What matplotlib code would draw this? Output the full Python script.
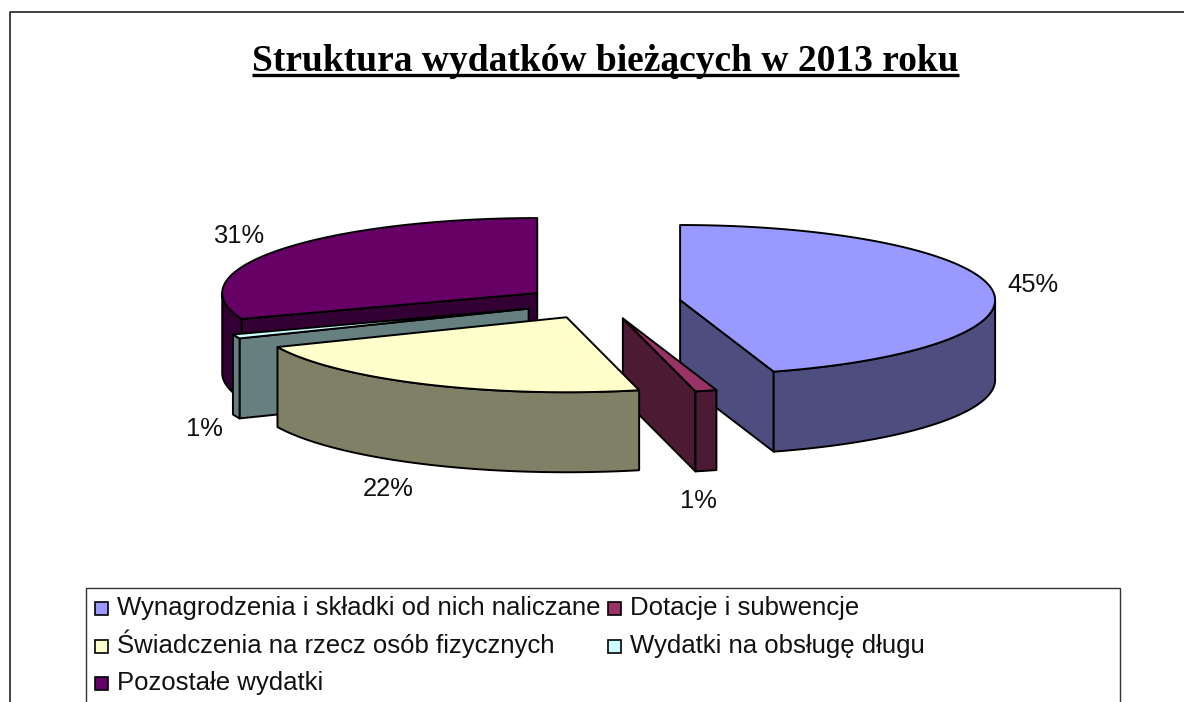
import numpy as np
import matplotlib
matplotlib.use('Agg')
import matplotlib.pyplot as plt
from matplotlib.patches import Polygon, Rectangle

plt.rcParams['font.family'] = ['Liberation Sans']

title = 'Struktura wydatków bieżących w 2013 roku'
categories = ['Wynagrodzenia i składki od nich naliczane', 'Dotacje i subwencje',
              'Świadczenia na rzecz osób fizycznych', 'Wydatki na obsługę długu',
              'Pozostałe wydatki']
values = [45.2, 1.1, 22.2, 0.9, 30.6]
top_colors = ['#9999FF', '#993366', '#FFFFCC', '#CCFFFF', '#660066']
side_colors = ['#4D4D80', '#4D1A33', '#808066', '#668080', '#330033']

cx, cy = 602, 302.5    # pie centre in pixels
rx, ry = 315, 75
depth = 80
pull_x, pull_y = 79, 16.5   # how far each slice is pulled out
lw = 1.4


def edge(c, t):
    # t in degrees clockwise from 12 o'clock
    t = np.radians(t)
    return np.column_stack([c[0] + rx * np.sin(t), c[1] - ry * np.cos(t)])


def draw_slice(ax, start, end, top, side):
    mid = np.radians((start + end) / 2)
    c = (cx + pull_x * np.sin(mid), cy - pull_y * np.cos(mid))
    down = np.array([0, depth])
    style = dict(edgecolor='black', linewidth=lw, joinstyle='round')
    # flat cut faces that look towards the viewer
    for t, show in ((start, start > 180), (end, end < 180)):
        if show:
            p = edge(c, t)[0]
            ax.add_patch(Polygon([c, p, p + down, np.array(c) + down], facecolor=side, **style))
    # outer rim, only the front half can be seen
    a, b = max(start, 90), min(end, 270)
    if b > a:
        arc = edge(c, np.linspace(a, b, 60))
        ax.add_patch(Polygon(np.vstack([arc, (arc + down)[::-1]]), facecolor=side, **style))
    arc = edge(c, np.linspace(start, end, 120))
    ax.add_patch(Polygon(np.vstack([[c], arc]), facecolor=top, **style))


fig = plt.figure(figsize=(11.84, 7.02), dpi=100)
ax = fig.add_axes([0, 0, 1, 1])
ax.set_xlim(0, 1184)
ax.set_ylim(702, 0)
ax.axis('off')

# chart border, cut off by the image on the right and bottom
ax.plot([9.5, 9.5, 1184], [702, 12, 12], color='#222222', lw=1.2)

bounds = np.cumsum([0] + values) * 3.6
for i in [4, 3, 0, 1, 2]:
    draw_slice(ax, bounds[i], bounds[i + 1], top_colors[i], side_colors[i])

# percent labels
label_pos = [(1033, 285), (698, 501), (388, 489), (204, 429), (239, 236)]
for v, (x, y) in zip(values, label_pos):
    ax.text(x, y, '%.0f%%' % v, fontsize=18.4, ha='center', va='center', color='#111111')

t = ax.text(605.5, 71, title, fontsize=27, family='Liberation Serif', fontweight='bold',
            ha='center', va='baseline')
fig.canvas.draw()
box = t.get_window_extent()
ax.plot([box.x0, box.x1], [75, 75], color='black', lw=2.4, solid_capstyle='butt')

# legend, the frame runs past the bottom of the image
ax.add_patch(Rectangle((85.5, 587.5), 1034, 130, facecolor='white', edgecolor='#333333', lw=1))
slots = [(95, 615), (95, 653), (95, 690), (608, 615), (608, 653)]
order = [0, 2, 4, 1, 3]
for i, (x, y) in zip(order, slots):
    ax.add_patch(Rectangle((x, y - 13), 13, 13, facecolor=top_colors[i], edgecolor='black', lw=1.2))
    ax.text(x + 22, y, categories[i], fontsize=18.5, va='baseline', color='#111111')

fig.savefig('out.png', dpi=100)
